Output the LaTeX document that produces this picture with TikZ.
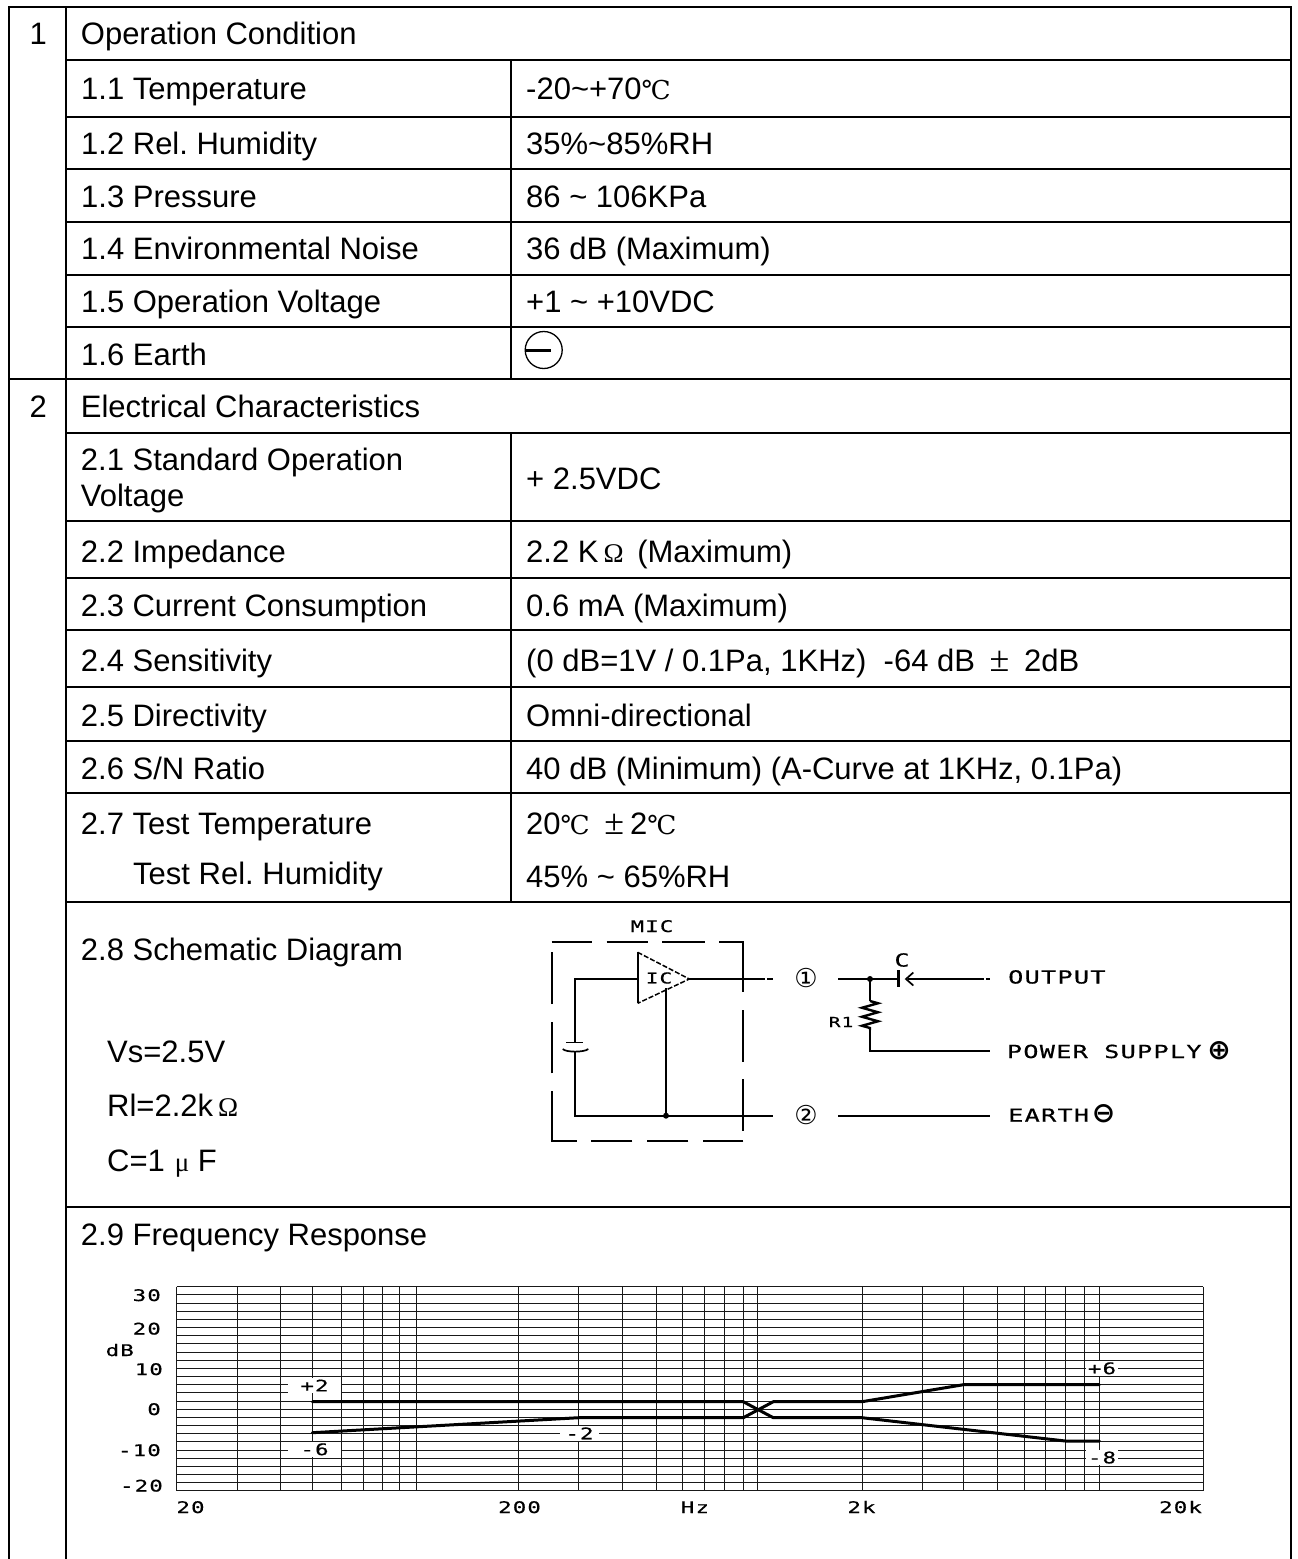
\documentclass[tikz,border=0pt]{standalone}
\usepackage{fontspec}
\usepackage{tikz}
\usetikzlibrary{decorations.pathmorphing,positioning}
\setmainfont{Liberation Sans}
\newfontfamily\serifsym{Liberation Serif}
\newfontfamily\degfont{DejaVu Serif}
\newfontfamily\plotfont[FakeStretch=1.4,FakeBold=0.5,LetterSpace=7]{DejaVu Sans Mono}
\newfontfamily\symfont{DejaVu Sans}
\newcommand{\tld}{\textasciitilde}
\newcommand{\degc}{{\degfont\fontsize{26}{30}\selectfont ℃}}
\newcommand{\ohm}{{\serifsym\fontsize{27}{30}\selectfont\hspace{5pt}Ω\hspace{5pt}}}
\newcommand{\micro}{{\serifsym\fontsize{27}{30}\selectfont\hspace{10pt}μ\hspace{8.5pt}}}
\newcommand{\plusminus}{{\serifsym\fontsize{36}{36}\selectfont\,±\,}}

\begin{document}
\frenchspacing
\begin{tikzpicture}[
        x=1pt, y=-1pt,
        rule/.style = {line width=2.1pt, line cap=rect},
        cell/.style = {anchor=base west, inner sep=0pt, font=\frenchspacing\fontsize{31}{36}\selectfont},
        wire/.style = {line width=1.7pt},
        gridline/.style = {line width=1pt, black!90},
        curve/.style = {line width=3pt, line cap=round, line join=round},
        plotlab/.style = {inner sep=0pt, font=\plotfont\fontsize{16}{16}\selectfont},
        patchlab/.style = {plotlab, fill=white, minimum width=#1, minimum height=15pt},
        schemlab/.style = {inner sep=0pt, font=\plotfont\fontsize{18}{18}\selectfont}
        ]
        \useasboundingbox (0,0) rectangle (1298,1559);

        \draw[rule] (8.6,1565) -- (8.6,6.7) -- (1291,6.7) -- (1291,1565);
        \draw[rule] (66.4,6.7) -- (66.4,1565);
        \draw[rule] (511.4,60) -- (511.4,379.3);
        \draw[rule] (511.4,432.7) -- (511.4,901.7);
        \draw[rule] (8.6,379.3) -- (1291,379.3);
        \foreach \y in {60,116.7,168.7,221.7,274.7,326.7,432.7,520.7,577.7,630.3,687.3,740.7,792.7,901.7,1207.3}
            \draw[rule] (66.4,\y) -- (1291,\y);

        \node[cell] (n1) at (29.5,44.3) {1};
        \node[cell] (n2) at (29.5,417.8) {2};
        \foreach \name/\x/\y/\txt in {
            t1/80.7/44.3/{Operation Condition},
            a1/81/99.3/{1.1 Temperature},
            a2/81/154.3/{1.2 Rel. Humidity},
            a3/81/207.7/{1.3 Pressure},
            a4/81/259.8/{1.4 Environmental Noise},
            a5/81/312.7/{1.5 Operation Voltage},
            a6/81/365.3/{1.6 Earth},
            t2/80.7/417.8/{Electrical Characteristics},
            b1/80.7/470.5/{2.1 Standard Operation},
            b1x/80.7/506/{Voltage},
            b2/80.7/562/{2.2 Impedance},
            b3/80.7/616.5/{2.3 Current Consumption},
            b4/80.7/671/{2.4 Sensitivity},
            b5/80.7/726/{2.5 Directivity},
            b6/80.7/779/{2.6 S/N Ratio},
            b7/80.7/834/{2.7 Test Temperature},
            b7x/133/884.8/{Test Rel. Humidity},
            b8/80.7/960/{2.8 Schematic Diagram},
            vs/107/1062/{Vs=2.5V},
            rl/107/1116/{Rl=2.2k\ohm},
            cv/107/1171.7/{C=1\micro F},
            b9/80.7/1245.3/{2.9 Frequency Response},
            va1/526/99.5/{-20\tld+70\degc},
            va2/526/154.3/{35\%\tld85\%RH},
            va3/526/207.7/{86 \tld\ 106KPa},
            va4/526/259.8/{36 dB (Maximum)},
            va5/526/312.7/{+1 \tld\ +10VDC},
            vb1/526/489/{+ 2.5VDC},
            vb2/526/562/{2.2 K\ohm\ (Maximum)},
            vb3/526/616.5/{0.6 mA (Maximum)},
            vb4/526/671/{(0 dB=1V / 0.1Pa, 1KHz)\ \ -64 dB \plusminus\ 2dB},
            vb5/526/726/{Omni-directional},
            vb6/526/779/{40 dB (Minimum) (A-Curve at 1KHz, 0.1Pa)},
            vb7/526/834/{20\degc\ \plusminus 2\degc},
            vb7x/526/887.5/{45\% \tld\ 65\%RH}}
            \node[cell] (\name) at (\x,\y) {\txt};

        \node[draw, circle, line width=1.3pt, minimum size=37pt, inner sep=0pt] (earth) at (543.7,350) {};
        \draw[line width=3pt] (earth.west) -- ++(26,0);

        \foreach \xa/\xb in {551.7/592.3,606.7/648.3,662.3/705}
            \draw[wire] (\xa,942.3) -- (\xb,942.3);
        \draw[wire] (719,942.3) -- (743.3,942.3) -- (743.3,991.7);
        \draw[wire] (743.3,1010) -- (743.3,1061.7);
        \draw[wire] (743.3,1079) -- (743.3,1130.7);
        \draw[wire] (743.3,1141) -- (702.7,1141);
        \draw[wire] (688.3,1141) -- (646.7,1141);
        \draw[wire] (632.3,1141) -- (590.7,1141);
        \draw[wire] (576.7,1141) -- (551.7,1141) -- (551.7,1091);
        \draw[wire] (551.7,1073.3) -- (551.7,1021.7);
        \draw[wire] (551.7,1004) -- (551.7,952.3);

        \coordinate (trA) at (637.7,952.3);
        \coordinate (trB) at (637.7,1003.3);
        \coordinate (trC) at (689.3,979);
        \coordinate (trG) at (666,988.3);
        \coordinate (inF) at (637.7,979);
        \coordinate (inT) at (575,979);
        \coordinate (capT) at (575,1042);
        \coordinate (capB) at (575,1051.7);
        \coordinate (gndL) at (575,1115.7);
        \coordinate (gndO) at (772.7,1115.7);
        \coordinate (outO) at (765,979);
        \coordinate (outD) at (767,979);
        \coordinate (outF) at (772.7,979);

        \draw[wire] (trA) -- (trB);
        \draw[line width=1.5pt, dash pattern=on 5pt off 2pt] (trA) -- (trC) -- (trB);
        \draw[wire] (capT) -- (inT) -- (inF);
        \draw[wire] (capB) -- (gndL) -- (gndO);
        \draw[wire] (trC) -- (outO);
        \draw[wire] (outD) -- (outF);
        \draw[wire] (trG) -- (trG |- gndL);
        \node[fill, circle, inner sep=0pt, minimum size=6pt] (gndJ) at (trG |- gndL) {};
        \draw[wire] (566,1042.5) -- (583.3,1042.5);
        \draw[wire] (562.7,1049) .. controls (566,1052.5) and (584,1052.5) .. (588.3,1049);

        \node[inner sep=0pt, font=\plotfont\fontsize{15}{15}\selectfont] (ic) at (659,978) {IC};
        \node[plotlab, anchor=base] (mic) at (652,932) {MIC};
        \node[inner sep=0pt, font=\symfont\fontsize{26}{26}\selectfont] (term1) at (806,978) {①};
        \node[inner sep=0pt, font=\symfont\fontsize{26}{26}\selectfont] (term2) at (806,1115.5) {②};

        \coordinate (rIn) at (838.3,979);
        \coordinate (rJ) at (870,979);
        \coordinate (rTop) at (870,1001);
        \coordinate (rBot) at (870,1030);
        \coordinate (rEnd) at (990,1051.3);
        \coordinate (capL) at (898.3,979);
        \coordinate (capR) at (908,979);
        \coordinate (outE) at (984,979);
        \coordinate (outG) at (986,979);
        \coordinate (outH) at (990,979);
        \coordinate (gndI) at (838.3,1115.7);
        \coordinate (gndE) at (990,1115.7);

        \draw[wire] (rIn) -- (capL);
        \draw[wire] (capR) -- (outE);
        \draw[wire] (outG) -- (outH);
        \draw[line width=3pt] (898.3,970) -- (898.3,987);
        \draw[wire] (913.3,972.5) -- (906,979) -- (913.3,985.5);
        \node[fill, circle, inner sep=0pt, minimum size=6pt] (jr) at (rJ) {};
        \draw[wire] (rJ) -- (rTop);
        \draw[line width=2.4pt, decorate, decoration={zigzag, segment length=9pt, amplitude=8pt}] (rTop) -- (rBot);
        \draw[wire] (rBot) -- (rBot |- rEnd) -- (rEnd);
        \draw[wire] (gndI) -- (gndE);

        \node[schemlab] (clab) at (902,960) {C};
        \node[inner sep=0pt, font=\plotfont\fontsize{14}{14}\selectfont] (rlab) at (841,1022) {R1};
        \node[schemlab, anchor=base west] (lout) at (1008,983.5) {OUTPUT};
        \node[schemlab, anchor=base west] (lpow) at (1006.7,1058) {POWER SUPPLY};
        \node[schemlab, anchor=base west] (lear) at (1008,1121.7) {EARTH};
        \node[inner sep=0pt, font=\symfont\bfseries\fontsize{28}{28}\selectfont] (spow) at (1219,1051) {⊕};
        \node[inner sep=0pt, font=\symfont\bfseries\fontsize{28}{28}\selectfont] (sear) at (1103.5,1114) {⊖};

        \foreach \i in {0,...,25}
            \draw[gridline] (176.7,1286.7+\i*8.17) -- (1203.3,1286.7+\i*8.17);
        \foreach \x in {176.7,237.3,280.7,312.3,341.3,363,382.3,399.3,416.3,518,578.7,622.3,656,682.3,704.7,724,743.3,757.7,862,922.3,963.3,997.3,1024.3,1045.7,1065.3,1084.7,1099.3,1203.3}
            \draw[gridline] (\x,1286.7) -- (\x,1491);

        \draw[curve] (312.3,1401.7) -- (743.3,1401.7) -- (773.3,1417.7) -- (862,1417.7) -- (1065.3,1441) -- (1099.3,1441);
        \draw[curve] (312.3,1432.7) -- (578.7,1417.7) -- (743.3,1417.7) -- (773.3,1401.7) -- (862,1401.7) -- (963.3,1384.7) -- (1099.3,1384.7);

        \node[patchlab=53pt] (lp2) at (314.5,1385.5) {+2};
        \node[patchlab=53pt] (lm6) at (314.5,1449.3) {-6};
        \node[patchlab=39pt] (lm2) at (579.5,1433.3) {-2};
        \node[patchlab=32pt] (lp6) at (1102,1368.3) {+6};
        \node[patchlab=32pt] (lm8) at (1102,1457.5) {-8};

        \foreach \name/\x/\y/\txt in {
            y30/161/1301/30,
            y20/161/1334.5/20,
            y10/163/1375/10,
            y0/161/1415/0,
            ym10/161/1456/-10,
            ym20/163/1491.5/-20,
            xdb/134/1356/dB}
            \node[plotlab, anchor=base east] (\name) at (\x,\y) {\txt};
        \foreach \name/\x/\txt in {
            x20/190.5/20,
            x200/519.5/200,
            xhz/695/Hz,
            x2k/861.5/2k,
            x20k/1180.5/20k}
            \node[plotlab, anchor=base] (\name) at (\x,1513) {\txt};
    \end{tikzpicture}
\end{document}
